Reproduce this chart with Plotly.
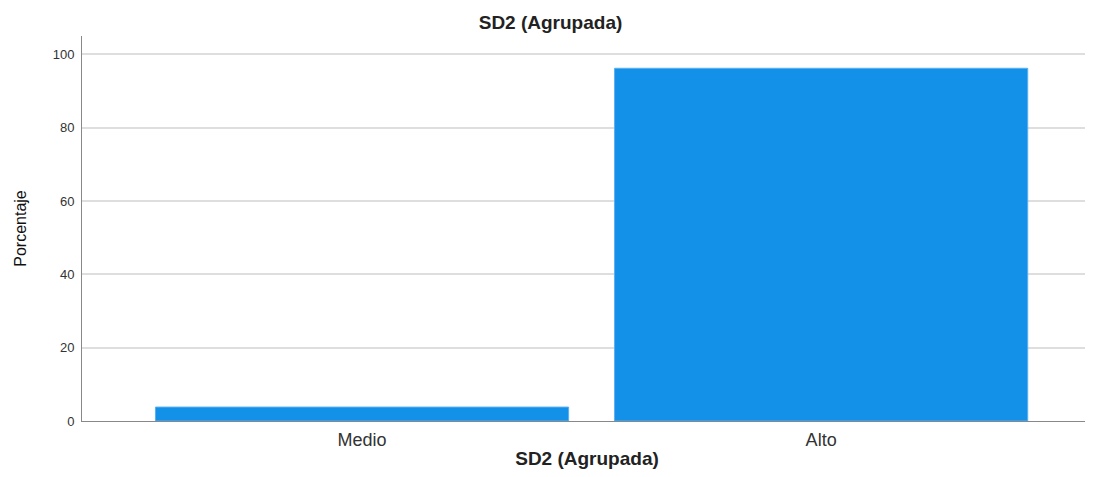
import plotly.graph_objects as go

categories = ["Medio", "Alto"]
values = [3.8, 96.2]
y_ticks = [0, 20, 40, 60, 80, 100]

fig = go.Figure()
fig.add_trace(go.Bar(
    x=categories, y=values, width=0.9,
    marker=dict(color="#1390E8", line=dict(color="#5AB0F0", width=1)),
))

fig.update_layout(
    width=1085, height=461,
    margin=dict(l=74, r=1, t=28, b=48),
    paper_bgcolor="white", plot_bgcolor="white",
    font=dict(family="Liberation Sans, Arial", color="#222"),
    title=dict(text="<b>SD2 (Agrupada)</b>", x=0.5, xanchor="center", y=0.969, yanchor="middle",
               font=dict(size=19, color="#222")),
    showlegend=False, bargap=0.1,
)
fig.update_xaxes(
    range=[-0.61, 1.59], showline=True, linecolor="#888", linewidth=1,
    showgrid=False, ticks="", tickfont=dict(size=18, color="#333"),
    ticklabelstandoff=2, automargin=False,
    title=dict(text="<b>SD2 (Agrupada)</b>", font=dict(size=19, color="#222"), standoff=11),
)
fig.update_yaxes(
    range=[0, 105], tickvals=y_ticks, showline=True, linecolor="#888", linewidth=1,
    showgrid=True, gridcolor="#dedede", gridwidth=2, ticks="", zeroline=False,
    tickfont=dict(size=13, color="#333"), ticklabelstandoff=4, automargin=False,
    title=dict(text="Porcentaje", font=dict(size=16, color="#111", family="Liberation Sans Narrow, Liberation Sans"), standoff=22),
)
fig.write_html("out.html")
